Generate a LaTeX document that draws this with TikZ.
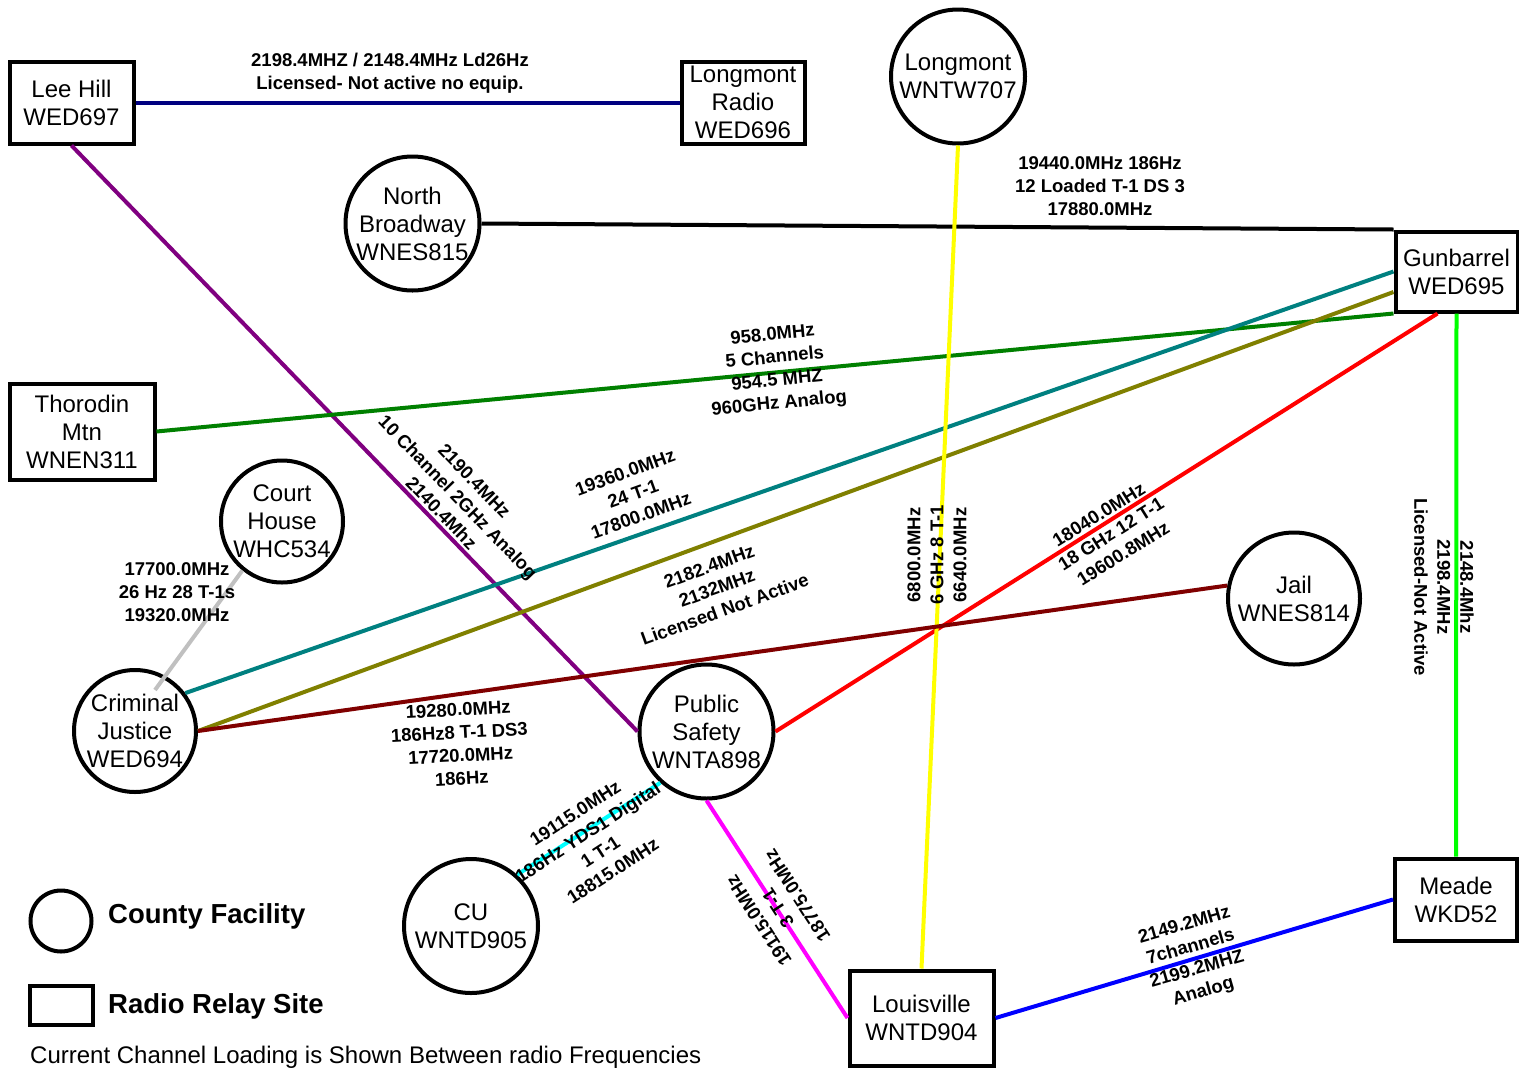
\documentclass[tikz,border=0pt]{standalone}
\usepackage{fontspec}
\setmainfont{Liberation Sans}
\usetikzlibrary{calc}
\definecolor{navyc}{RGB}{0,0,128}
\definecolor{purplec}{RGB}{128,0,128}
\definecolor{greenc}{RGB}{0,128,0}
\definecolor{tealc}{RGB}{0,128,128}
\definecolor{olivec}{RGB}{128,128,0}
\definecolor{redc}{RGB}{255,0,0}
\definecolor{limec}{RGB}{0,255,0}
\definecolor{yellowc}{RGB}{255,255,0}
\definecolor{maroonc}{RGB}{128,0,0}
\definecolor{grayc}{RGB}{192,192,192}
\definecolor{cyanc}{RGB}{0,255,255}
\definecolor{magentac}{RGB}{255,0,255}
\definecolor{bluec}{RGB}{0,0,255}
\begin{document}
\begin{tikzpicture}[x=1pt,y=-1pt,
  ntext/.style={align=center,font=\fontsize{24}{28}\selectfont,inner sep=0pt},
  sitebox/.style={draw,rectangle,line width=4pt,align=center,font=\fontsize{24}{28}\selectfont,inner sep=0pt},
  fac/.style={draw,circle,line width=4pt,minimum size=#1,inner sep=0pt},
  link/.style={line width=4pt},
  lbl/.style={font=\fontsize{18.5}{23}\selectfont\bfseries,align=center,inner sep=0pt},
  legtext/.style={font=\fontsize{27.5}{32}\selectfont\bfseries,anchor=base west,inner sep=0pt}]
\useasboundingbox (0,0) rectangle (1519,1069);
\clip (0,0) rectangle (1519,1069);
% sites and facilities
\node[sitebox,minimum width=124,minimum height=82] (leehill) at (71.5,102.5) {Lee Hill\\WED697};
\node[sitebox,minimum width=123,minimum height=82] (lradio) at (743,102.5) {Longmont\\Radio\\WED696};
\node[fac=134,label={[ntext]center:{Longmont\\WNTW707}}] (lw) at (958,76.5) {};
\node[fac=134,label={[ntext]center:{North\\Broadway\\WNES815}}] (nb) at (412.5,223.5) {};
\node[sitebox,minimum width=122,minimum height=80] (gun) at (1456.5,271.5) {Gunbarrel\\WED695};
\node[sitebox,minimum width=145,minimum height=96] (thor) at (82,431.5) {Thorodin\\Mtn\\WNEN311};
\node[fac=122,label={[ntext]center:{Court\\House\\WHC534}}] (ch) at (282,521.5) {};
\node[fac=122,label={[ntext]center:{Criminal\\Justice\\WED694}}] (cj) at (135,731) {};
\node[fac=134,label={[ntext]center:{Public\\Safety\\WNTA898}}] (ps) at (706.5,731.5) {};
\node[fac=132,label={[ntext]center:{Jail\\WNES814}}] (jail) at (1294,598.5) {};
\node[fac=134,label={[ntext]center:{CU\\WNTD905}}] (cu) at (471,926) {};
\node[sitebox,minimum width=122,minimum height=82] (meade) at (1456,899.5) {Meade\\WKD52};
\node[sitebox,minimum width=144,minimum height=95] (lou) at (921.5,1018) {Louisville\\WNTD904};
% links
\draw[link,navyc] (leehill.east) -- (lradio.west);
\draw[link,purplec] (leehill.south) -- (ps.west);
\draw[link,black] (nb.east) -- (gun.north west);
\draw[link,greenc] (thor.east) -- (gun.south west);
\draw[link,tealc] (gun.west) -- (cj.37);
\draw[link,olivec] ($(gun.west)+(0,20.5)$) -- (cj.east);
\draw[link,redc] ($(gun.south)+(-19,0)$) -- (ps.east);
\draw[link,limec] (gun.south) -- (meade.north);
\draw[link,yellowc] (lw.south) -- (lou.north);
\draw[link,maroonc] (jail.169) -- (cj.east);
\draw[link,grayc] (ch.231) -- ($(cj.center)+(20,-41)$);
\draw[link,cyanc] (ps.228) -- (cu.48);
\draw[link,magentac] (ps.south) -- (lou.west);
\draw[link,bluec] (lou.east) -- (meade.west);
% labels
\node[lbl] (l1) at (390,73.5) {2198.4MHZ / 2148.4MHz Ld26Hz\\Licensed- Not active no equip.};
\node[lbl] (l2) at (1100,186) {19440.0MHz 186Hz\\12 Loaded T-1 DS 3\\17880.0MHz};
\node[lbl,rotate=-46] (l3) at (458,497) {2190.4MHz\\10 Channel 2GHz Analog\\2140.4Mhz};
\node[lbl,rotate=5.5] (l4) at (776,370) {958.0MHz\\5 Channels\\954.5 MHZ\\960GHz Analog};
\node[lbl,rotate=20] (l5) at (633,494) {19360.0MHz\\24 T-1\\17800.0MHz};
\node[lbl,rotate=20] (l6) at (717,588) {2182.4MHz\\2132MHz\\Licensed Not Active};
\node[lbl,rotate=32] (l7) at (1111,534) {18040.0MHz\\18 GHz 12 T-1\\19600.8MHz};
\node[lbl,rotate=-90] (l8) at (1444,587) {2148.4Mhz\\2198.4MHz\\Licensed-Not Active};
\node[lbl,rotate=90] (l9) at (937,555) {6800.0MHz\\6 GHz 8 T-1\\6640.0MHz};
\node[lbl,rotate=3] (l10) at (460,744) {19280.0MHz\\186Hz8 T-1 DS3\\17720.0MHz\\186Hz};
\node[lbl] (l11) at (177,592) {17700.0MHz\\26 Hz 28 T-1s\\19320.0MHz};
\node[lbl,rotate=33] (l12) at (594,842) {19115.0MHz\\186Hz YDS1 Digital\\1 T-1\\18815.0MHz};
\node[lbl,rotate=123] (l13) at (778,908) {19115.0MHz\\3 T-1\\18775.0MHz};
\node[lbl,rotate=16] (l14) at (1194,959) {2149.2MHz\\7channels\\2199.2MHZ\\Analog};
% legend
\node[fac=61] (legc) at (61,921) {};
\node[legtext] (legct) at (108,923) {County Facility};
\node[draw,line width=4pt,minimum width=63,minimum height=39,inner sep=0pt] (legb) at (61,1005) {};
\node[legtext] (legbt) at (108,1013) {Radio Relay Site};
\node[font=\fontsize{24}{28}\selectfont,anchor=base west,inner sep=0pt] (foot) at (30,1063) {Current Channel Loading is Shown Between radio Frequencies};
\end{tikzpicture}
\end{document}
